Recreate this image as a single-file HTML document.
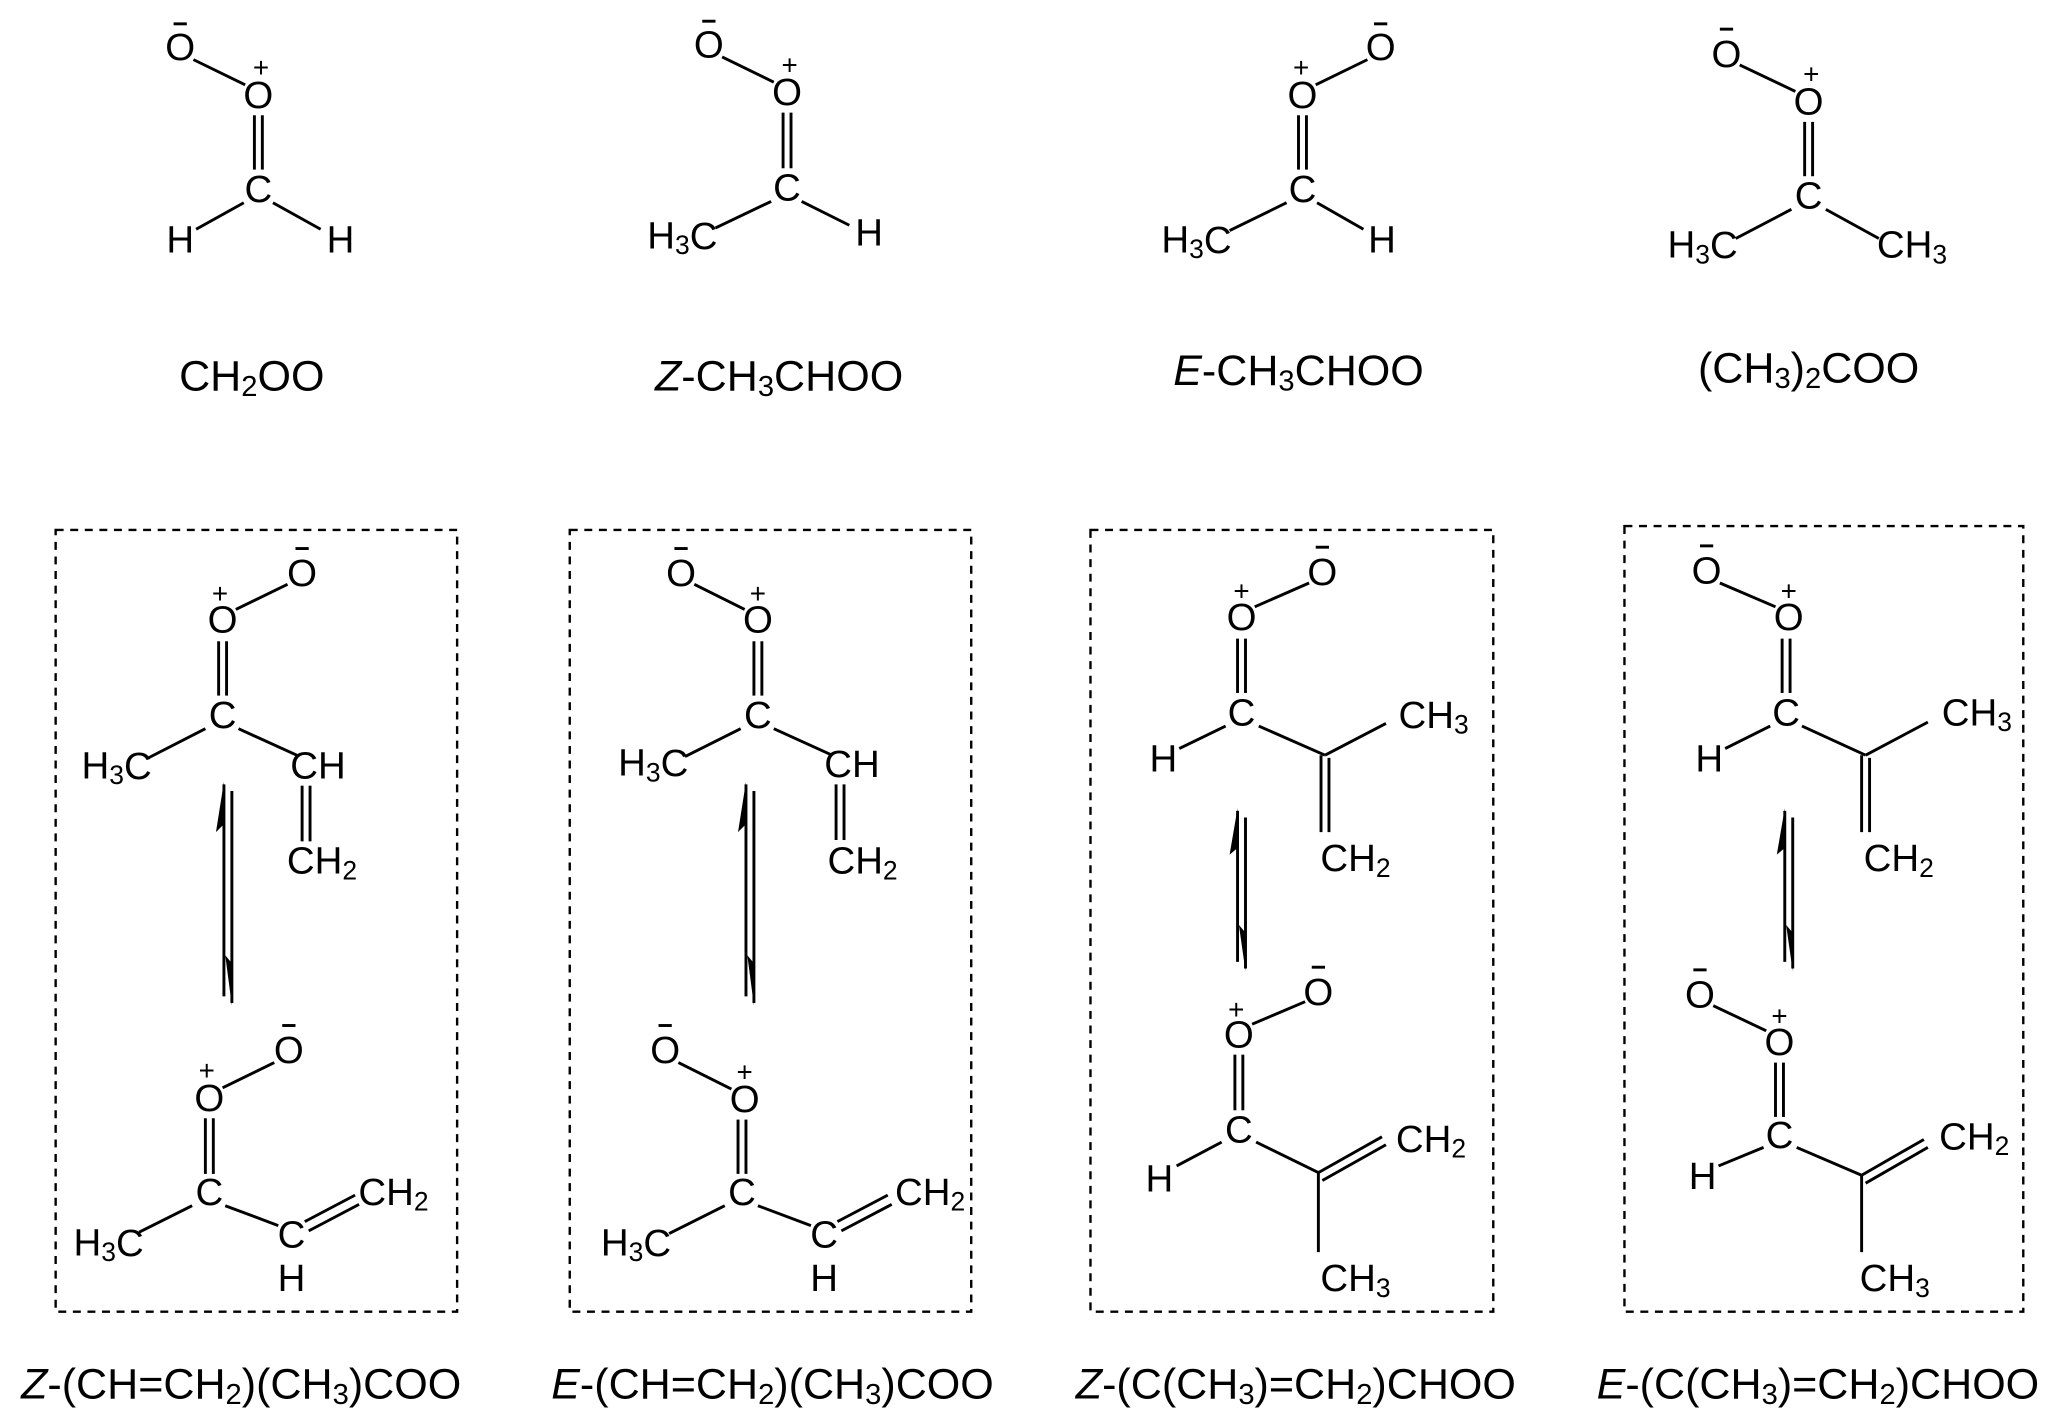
<!DOCTYPE html>
<html><head><meta charset="utf-8"><style>
html,body{margin:0;padding:0;background:#fff;}
svg{display:block;}
text{font-family:"Liberation Sans",Arial,sans-serif;fill:#000;}
.a{font-size:29px;text-anchor:middle;dominant-baseline:central;}
.l{font-size:32.5px;text-anchor:middle;dominant-baseline:central;}
.c{font-size:21px;text-anchor:middle;dominant-baseline:central;}
line{stroke:#000;stroke-width:2.2;}
.box{fill:none;stroke:#000;stroke-width:1.8;stroke-dasharray:6,5;}
</style></head><body>
<svg width="2067" height="1423" viewBox="0 0 1560 1074" preserveAspectRatio="none" xmlns="http://www.w3.org/2000/svg">

<!-- Molecule 1 CH2OO -->
<text class="a" x="136" y="36">O</text><line x1="131" y1="18" x2="141" y2="18"/>
<text class="a" x="195" y="72">O</text><text class="c" x="197" y="51">+</text>
<line x1="146" y1="45" x2="185" y2="64"/>
<line x1="192" y1="87" x2="192" y2="128"/><line x1="198" y1="87" x2="198" y2="128"/>
<text class="a" x="195" y="143">C</text>
<text class="a" x="136" y="181">H</text><text class="a" x="257" y="181">H</text>
<line x1="184" y1="153" x2="148" y2="173"/><line x1="206" y1="153" x2="242" y2="173"/>
<text class="l" x="190" y="284">CH<tspan font-size="22" dy="8">2</tspan><tspan dy="-8">OO</tspan></text>

<!-- Molecule 2 Z-CH3CHOO -->
<text class="a" x="535" y="34">O</text><line x1="530" y1="16" x2="540" y2="16"/>
<text class="a" x="594" y="70">O</text><text class="c" x="596" y="49">+</text>
<line x1="545" y1="43" x2="584" y2="62"/>
<line x1="591" y1="85" x2="591" y2="127"/><line x1="597" y1="85" x2="597" y2="127"/>
<text class="a" x="594" y="142">C</text>
<text class="a" x="515" y="178">H<tspan font-size="20" dy="7">3</tspan><tspan dy="-7">C</tspan></text>
<text class="a" x="656" y="176">H</text>
<line x1="582" y1="152" x2="540" y2="172"/><line x1="605" y1="152" x2="641" y2="170"/>
<text class="l" x="588" y="284"><tspan font-style="italic">Z</tspan>-CH<tspan font-size="22" dy="8">3</tspan><tspan dy="-8">CHOO</tspan></text>

<!-- Molecule 3 E-CH3CHOO -->
<text class="a" x="983" y="72">O</text><text class="c" x="982" y="51">+</text>
<text class="a" x="1042" y="36">O</text><line x1="1037" y1="18" x2="1047" y2="18"/>
<line x1="993" y1="64" x2="1032" y2="45"/>
<line x1="980" y1="87" x2="980" y2="128"/><line x1="986" y1="87" x2="986" y2="128"/>
<text class="a" x="983" y="143">C</text>
<text class="a" x="903" y="181">H<tspan font-size="20" dy="7">3</tspan><tspan dy="-7">C</tspan></text>
<text class="a" x="1043" y="181">H</text>
<line x1="971" y1="153" x2="928" y2="174"/><line x1="994" y1="153" x2="1029" y2="173"/>
<text class="l" x="980" y="280"><tspan font-style="italic">E</tspan>-CH<tspan font-size="22" dy="8">3</tspan><tspan dy="-8">CHOO</tspan></text>

<!-- Molecule 4 (CH3)2COO -->
<text class="a" x="1303" y="41">O</text><line x1="1298" y1="22" x2="1308" y2="22"/>
<text class="a" x="1365" y="77">O</text><text class="c" x="1367" y="56">+</text>
<line x1="1313" y1="49" x2="1355" y2="69"/>
<line x1="1362" y1="92" x2="1362" y2="133"/><line x1="1368" y1="92" x2="1368" y2="133"/>
<text class="a" x="1365" y="148">C</text>
<text class="a" x="1285" y="185">H<tspan font-size="20" dy="7">3</tspan><tspan dy="-7">C</tspan></text>
<text class="a" x="1443" y="185">CH<tspan font-size="20" dy="7">3</tspan></text>
<line x1="1352" y1="158" x2="1310" y2="180"/><line x1="1378" y1="158" x2="1418" y2="180"/>
<text class="l" x="1365" y="278">(CH<tspan font-size="22" dy="8">3</tspan><tspan dy="-8">)</tspan><tspan font-size="22" dy="8">2</tspan><tspan dy="-8">COO</tspan></text>

<!-- Boxes -->
<rect class="box" x="42" y="400" width="303" height="590"/>
<rect class="box" x="430" y="400" width="303" height="590"/>
<rect class="box" x="823" y="400" width="304" height="590"/>
<rect class="box" x="1226" y="397" width="301" height="593"/>

<!-- Box1 top -->
<text class="a" x="228" y="433">O</text><line x1="223" y1="414" x2="233" y2="414"/>
<text class="a" x="168" y="468">O</text><text class="c" x="166" y="448">+</text>
<line x1="178" y1="460" x2="217" y2="441"/>
<line x1="165" y1="484" x2="165" y2="525"/><line x1="171" y1="484" x2="171" y2="525"/>
<text class="a" x="168" y="540">C</text>
<text class="a" x="88" y="578">H<tspan font-size="20" dy="7">3</tspan><tspan dy="-7">C</tspan></text>
<line x1="155" y1="550" x2="112" y2="572"/>
<line x1="180" y1="550" x2="224" y2="570"/>
<text class="a" x="240" y="578">CH</text>
<line x1="228" y1="593" x2="228" y2="635"/><line x1="234" y1="593" x2="234" y2="635"/>
<text class="a" x="243" y="650">CH<tspan font-size="20" dy="7">2</tspan></text>
<line x1="169" y1="592" x2="169" y2="752"/><path d="M169 590 L163 628 L169 622 Z"/>
<line x1="175" y1="597" x2="175" y2="757"/><path d="M175 759 L170 721 L175 727 Z"/>
<!-- Box1 bottom -->
<text class="a" x="218" y="793">O</text><line x1="213" y1="774" x2="223" y2="774"/>
<text class="a" x="158" y="829">O</text><text class="c" x="156" y="808">+</text>
<line x1="168" y1="821" x2="207" y2="802"/>
<line x1="155" y1="844" x2="155" y2="886"/><line x1="161" y1="844" x2="161" y2="886"/>
<text class="a" x="158" y="900">C</text>
<text class="a" x="82" y="938">H<tspan font-size="20" dy="7">3</tspan><tspan dy="-7">C</tspan></text>
<line x1="145" y1="910" x2="105" y2="930"/>
<line x1="170" y1="910" x2="210" y2="925"/>
<text class="a" x="220" y="932">C</text><text class="a" x="220" y="965">H</text>
<line x1="230" y1="922" x2="268" y2="902"/><line x1="233" y1="929" x2="271" y2="909"/>
<text class="a" x="297" y="900">CH<tspan font-size="20" dy="7">2</tspan></text>
<text class="l" x="182" y="1045"><tspan font-style="italic">Z</tspan>-(CH=CH<tspan font-size="22" dy="8">2</tspan><tspan dy="-8">)(CH</tspan><tspan font-size="22" dy="8">3</tspan><tspan dy="-8">)COO</tspan></text>

<!-- Box2 top -->
<text class="a" x="514" y="433">O</text><line x1="509" y1="414" x2="519" y2="414"/>
<text class="a" x="572" y="468">O</text><text class="c" x="572" y="448">+</text>
<line x1="524" y1="441" x2="562" y2="460"/>
<line x1="569" y1="484" x2="569" y2="525"/><line x1="575" y1="484" x2="575" y2="525"/>
<text class="a" x="572" y="540">C</text>
<text class="a" x="493" y="576">H<tspan font-size="20" dy="7">3</tspan><tspan dy="-7">C</tspan></text>
<line x1="559" y1="550" x2="517" y2="571"/>
<line x1="584" y1="550" x2="628" y2="570"/>
<text class="a" x="643" y="577">CH</text>
<line x1="631" y1="592" x2="631" y2="634"/><line x1="637" y1="592" x2="637" y2="634"/>
<text class="a" x="651" y="650">CH<tspan font-size="20" dy="7">2</tspan></text>
<line x1="563" y1="592" x2="563" y2="752"/><path d="M563 590 L557 628 L563 622 Z"/>
<line x1="569" y1="597" x2="569" y2="757"/><path d="M569 759 L564 721 L569 727 Z"/>
<!-- Box2 bottom -->
<text class="a" x="502" y="793">O</text><line x1="497" y1="774" x2="507" y2="774"/>
<text class="a" x="562" y="830">O</text><text class="c" x="562" y="809">+</text>
<line x1="512" y1="802" x2="552" y2="822"/>
<line x1="557" y1="845" x2="557" y2="886"/><line x1="563" y1="845" x2="563" y2="886"/>
<text class="a" x="560" y="900">C</text>
<text class="a" x="480" y="938">H<tspan font-size="20" dy="7">3</tspan><tspan dy="-7">C</tspan></text>
<line x1="547" y1="910" x2="505" y2="931"/>
<line x1="572" y1="910" x2="612" y2="925"/>
<text class="a" x="622" y="932">C</text><text class="a" x="622" y="965">H</text>
<line x1="632" y1="922" x2="670" y2="902"/><line x1="635" y1="929" x2="673" y2="909"/>
<text class="a" x="702" y="900">CH<tspan font-size="20" dy="7">2</tspan></text>
<text class="l" x="583" y="1045"><tspan font-style="italic">E</tspan>-(CH=CH<tspan font-size="22" dy="8">2</tspan><tspan dy="-8">)(CH</tspan><tspan font-size="22" dy="8">3</tspan><tspan dy="-8">)COO</tspan></text>

<!-- Box3 top -->
<text class="a" x="937" y="466">O</text><text class="c" x="937" y="446">+</text>
<text class="a" x="998" y="432">O</text><line x1="993" y1="413" x2="1003" y2="413"/>
<line x1="947" y1="458" x2="988" y2="440"/>
<line x1="934" y1="482" x2="934" y2="523"/><line x1="940" y1="482" x2="940" y2="523"/>
<text class="a" x="937" y="538">C</text>
<text class="a" x="878" y="573">H</text>
<line x1="925" y1="548" x2="890" y2="565"/>
<line x1="950" y1="548" x2="1000" y2="570"/>
<line x1="1000" y1="570" x2="1046" y2="546"/>
<text class="a" x="1082" y="540">CH<tspan font-size="20" dy="7">3</tspan></text>
<line x1="997" y1="570" x2="997" y2="628"/><line x1="1003" y1="572" x2="1003" y2="628"/>
<text class="a" x="1023" y="648">CH<tspan font-size="20" dy="7">2</tspan></text>
<line x1="934" y1="612" x2="934" y2="726"/><path d="M934 610 L928 645 L934 640 Z"/>
<line x1="940" y1="617" x2="940" y2="731"/><path d="M940 733 L935 698 L940 704 Z"/>
<!-- Box3 bottom -->
<text class="a" x="935" y="781">O</text><text class="c" x="933" y="762">+</text>
<text class="a" x="995" y="749">O</text><line x1="990" y1="730" x2="1000" y2="730"/>
<line x1="945" y1="773" x2="985" y2="756"/>
<line x1="932" y1="796" x2="932" y2="838"/><line x1="938" y1="796" x2="938" y2="838"/>
<text class="a" x="935" y="853">C</text>
<text class="a" x="875" y="890">H</text>
<line x1="922" y1="862" x2="888" y2="880"/>
<line x1="948" y1="862" x2="995" y2="885"/>
<line x1="995" y1="885" x2="1043" y2="858"/><line x1="998" y1="891" x2="1046" y2="864"/>
<text class="a" x="1080" y="860">CH<tspan font-size="20" dy="7">2</tspan></text>
<line x1="995" y1="885" x2="995" y2="945"/>
<text class="a" x="1023" y="965">CH<tspan font-size="20" dy="7">3</tspan></text>
<text class="l" x="978" y="1045"><tspan font-style="italic">Z</tspan>-(C(CH<tspan font-size="22" dy="8">3</tspan><tspan dy="-8">)=CH</tspan><tspan font-size="22" dy="8">2</tspan><tspan dy="-8">)CHOO</tspan></text>

<!-- Box4 top -->
<text class="a" x="1288" y="431">O</text><line x1="1283" y1="412" x2="1293" y2="412"/>
<text class="a" x="1350" y="466">O</text><text class="c" x="1350" y="446">+</text>
<line x1="1298" y1="440" x2="1340" y2="458"/>
<line x1="1345" y1="482" x2="1345" y2="523"/><line x1="1351" y1="482" x2="1351" y2="523"/>
<text class="a" x="1348" y="538">C</text>
<text class="a" x="1290" y="573">H</text>
<line x1="1336" y1="548" x2="1302" y2="565"/>
<line x1="1360" y1="548" x2="1408" y2="570"/>
<line x1="1408" y1="570" x2="1455" y2="545"/>
<text class="a" x="1492" y="538">CH<tspan font-size="20" dy="7">3</tspan></text>
<line x1="1405" y1="570" x2="1405" y2="628"/><line x1="1411" y1="572" x2="1411" y2="628"/>
<text class="a" x="1433" y="648">CH<tspan font-size="20" dy="7">2</tspan></text>
<line x1="1347" y1="612" x2="1347" y2="726"/><path d="M1347 610 L1341 645 L1347 640 Z"/>
<line x1="1353" y1="617" x2="1353" y2="731"/><path d="M1353 733 L1348 698 L1353 704 Z"/>
<!-- Box4 bottom -->
<text class="a" x="1283" y="751">O</text><line x1="1278" y1="732" x2="1288" y2="732"/>
<text class="a" x="1343" y="787">O</text><text class="c" x="1343" y="767">+</text>
<line x1="1293" y1="759" x2="1333" y2="778"/>
<line x1="1340" y1="802" x2="1340" y2="843"/><line x1="1346" y1="802" x2="1346" y2="843"/>
<text class="a" x="1343" y="857">C</text>
<text class="a" x="1285" y="888">H</text>
<line x1="1331" y1="866" x2="1297" y2="880"/>
<line x1="1356" y1="866" x2="1405" y2="887"/>
<line x1="1405" y1="887" x2="1452" y2="860"/><line x1="1408" y1="893" x2="1455" y2="866"/>
<text class="a" x="1490" y="858">CH<tspan font-size="20" dy="7">2</tspan></text>
<line x1="1405" y1="887" x2="1405" y2="945"/>
<text class="a" x="1430" y="965">CH<tspan font-size="20" dy="7">3</tspan></text>
<text class="l" x="1372" y="1045"><tspan font-style="italic">E</tspan>-(C(CH<tspan font-size="22" dy="8">3</tspan><tspan dy="-8">)=CH</tspan><tspan font-size="22" dy="8">2</tspan><tspan dy="-8">)CHOO</tspan></text>
</svg>
</body></html>
